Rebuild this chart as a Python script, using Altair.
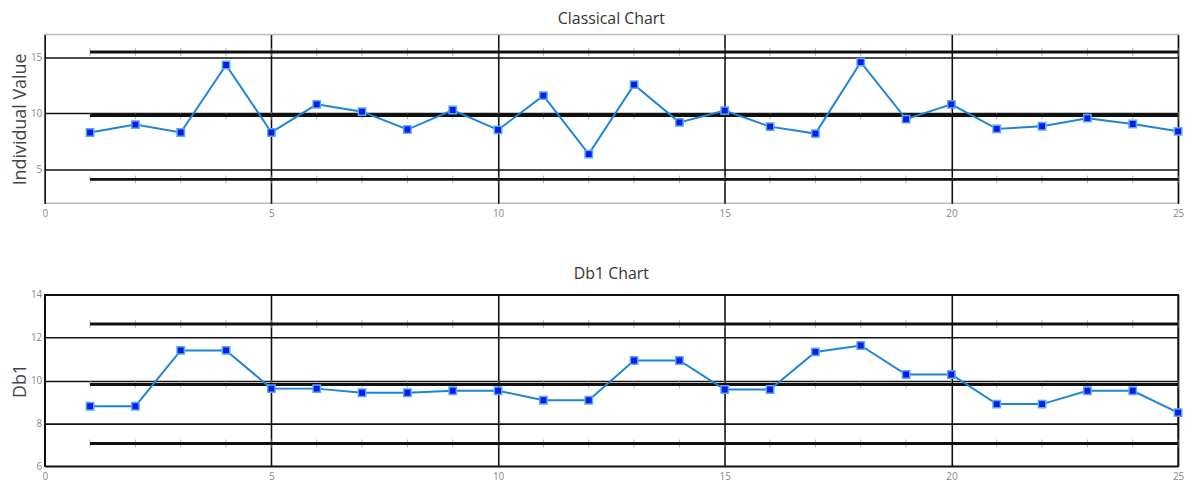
import altair as alt
import pandas as pd

# ---- data ----
x_idx = list(range(1, 26))
classical_vals = [8.3, 9.0, 8.3, 14.3, 8.3, 10.8, 10.15, 8.56, 10.3, 8.53,
                  11.57, 6.38, 12.55, 9.2, 10.24, 8.82, 8.2, 14.55, 9.48, 10.8,
                  8.62, 8.85, 9.57, 9.05, 8.4]
db1_vals = [8.8, 8.8, 11.4, 11.4, 9.62, 9.62, 9.43, 9.43, 9.52, 9.52,
            9.08, 9.08, 10.93, 10.93, 9.58, 9.58, 11.33, 11.63, 10.28, 10.28,
            8.9, 8.9, 9.52, 9.52, 8.5]
classical_limits = [15.45, 9.8, 4.13]   # UCL, CL, LCL
db1_limits = [12.63, 9.81, 7.06]
classical_yticks = [5, 10, 15]
db1_yticks = [6, 8, 10, 12, 14]
x_ticks = [0, 5, 10, 15, 20, 25]

LINE_BLUE = "#1f84d6"
FONT = "Open Sans"


def panel(vals, limits, title, ytitle, ydomain, yticks, frame, height):
    df = pd.DataFrame({"x": x_idx, "v": vals})
    lim = pd.DataFrame({"y": limits, "xs": [x_idx[0]] * len(limits),
                        "xe": [x_idx[-1]] * len(limits)})
    notch = pd.DataFrame([(i, l) for l in limits for i in x_idx], columns=["x", "y"])

    xs = alt.Scale(domain=[0, 25], nice=False, zero=False)
    ys = alt.Scale(domain=ydomain, nice=False, zero=False)
    xaxis = alt.Axis(values=x_ticks, grid=True, gridColor="#111", gridWidth=1.6,
                     ticks=False, domain=False, labelFlush=False, labelPadding=5,
                     labelColor="#888", labelFontSize=10, labelFont=FONT, title=None)
    yaxis = alt.Axis(values=yticks, grid=True, gridColor="#111", gridWidth=1.6,
                     ticks=False, domain=False, labelPadding=3, labelColor="#888",
                     labelFontSize=10, labelFont=FONT, title=ytitle,
                     titleFont=FONT, titleFontSize=18, titleFontWeight="normal",
                     titleColor="#444", titlePadding=1)

    rules = alt.Chart(lim).mark_rule(color="#111", strokeWidth=3).encode(
        x=alt.X("xs:Q", scale=xs, axis=xaxis),
        x2="xe:Q",
        y=alt.Y("y:Q", scale=ys, axis=yaxis),
    )
    notches = alt.Chart(notch).mark_tick(color="#999", thickness=1, size=8,
                                         orient="vertical").encode(
        x=alt.X("x:Q", scale=xs, axis=xaxis),
        y=alt.Y("y:Q", scale=ys, axis=yaxis),
    )
    line = alt.Chart(df).mark_line(color=LINE_BLUE, strokeWidth=2).encode(
        x=alt.X("x:Q", scale=xs, axis=xaxis),
        y=alt.Y("v:Q", scale=ys, axis=yaxis),
    )
    pts = alt.Chart(df).mark_point(shape="square", filled=True, size=55,
                                   color="#0a18e8", stroke="#55aaf0",
                                   strokeWidth=1.5, opacity=1).encode(
        x=alt.X("x:Q", scale=xs, axis=xaxis),
        y=alt.Y("v:Q", scale=ys, axis=yaxis),
    )
    return alt.layer(notches, rules, line, pts).properties(
        width=1142, height=height,
        title=alt.TitleParams(title, font=FONT, fontSize=16, fontWeight="normal",
                              color="#333", offset=8),
        view=alt.ViewBackground(stroke=frame, strokeWidth=1.5),
    )


top = panel(classical_vals, classical_limits, "Classical Chart", "Individual Value",
            [2, 17], classical_yticks, "#bbbbbb", 170)
bottom = panel(db1_vals, db1_limits, "Db1 Chart", "Db1",
               [6, 14], db1_yticks, "#111111", 173)

chart = alt.vconcat(top, bottom, spacing=46).properties(
    padding={"left": 2, "top": 0, "right": 0, "bottom": 0},
    background="white",
)

chart.save("out.html", embed_options={"renderer": "svg", "actions": False})
